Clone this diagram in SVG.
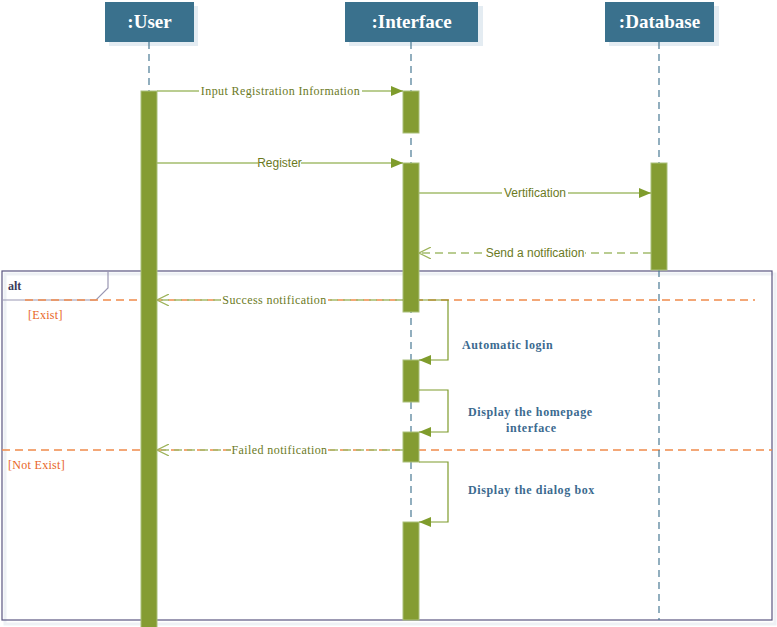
<svg xmlns="http://www.w3.org/2000/svg" width="777" height="627" viewBox="0 0 777 627">
  <style>
    .head { fill: #3a718d; }
    .headShadow { fill: #e4ecf2; }
    .headText { fill: #ffffff; font-family: "Liberation Serif", serif; font-weight: bold; font-size: 19px; text-anchor: middle; }
    .life { stroke: #4a7a94; stroke-width: 1.2; stroke-dasharray: 7 5; fill: none; }
    .act { fill: #849c32; stroke: #aac07a; stroke-width: 1; }
    .msg { stroke: #a3bc6d; stroke-width: 1.5; fill: none; }
    .dash { stroke-dasharray: 8 5; }
    .self { stroke: #7f9c2c; stroke-width: 1.2; fill: none; }
    .lblS { fill: #6b7a1e; font-family: "Liberation Serif", serif; font-size: 12px; text-anchor: middle; letter-spacing: 0.4px; }
    .lblA { fill: #6b7a1e; font-family: "Liberation Sans", sans-serif; font-size: 12px; text-anchor: middle; }
    .selfLbl { fill: #3b6a8f; font-family: "Liberation Serif", serif; font-weight: bold; font-size: 12px; letter-spacing: 0.6px; }
    .guard { fill: #e8641e; font-family: "Liberation Serif", serif; font-size: 12px; letter-spacing: 0.3px; }
    .sep { stroke: #f08a4b; stroke-width: 1.3; stroke-dasharray: 8 5; fill: none; }
    .frame { fill: none; stroke: #5a5580; stroke-width: 1.2; }
    .bg { fill: #ffffff; }
  </style>
  <defs>
    <marker id="filled" viewBox="0 0 12 10" refX="12" refY="5" markerWidth="12" markerHeight="10" markerUnits="userSpaceOnUse" orient="auto">
      <path d="M0,0 L12,5 L0,10 Z" fill="#7f9c2c"/>
    </marker>
    <marker id="open" viewBox="0 0 12 12" refX="12" refY="6" markerWidth="12" markerHeight="12" markerUnits="userSpaceOnUse" orient="auto">
      <path d="M0,0 L12,6 L0,12" fill="none" stroke="#9cb35a" stroke-width="1.2"/>
    </marker>
  </defs>

  <rect width="777" height="627" fill="#ffffff"/>

  <!-- combined fragment frame -->
  <g id="alt-frame">
    <rect x="5" y="274" width="770" height="350" fill="none" stroke="#eef1f5" stroke-width="3"/>
    <rect x="2" y="271" width="770" height="349" class="frame"/>
    <path d="M2,300 L96,300 L108,288 L108,271" fill="none" stroke="#9a97b3" stroke-width="1.2"/>
    <text x="8" y="290" font-family="Liberation Serif, serif" font-weight="bold" font-size="12" fill="#3b3b5c">alt</text>
    <line x1="25" y1="300" x2="755" y2="300" class="sep"/>
    <line x1="2" y1="450" x2="772" y2="450" class="sep"/>
    <text x="28" y="319" class="guard">[Exist]</text>
    <text x="8" y="469" class="guard">[Not Exist]</text>
  </g>

  <!-- lifelines -->
  <g id="user">
    <rect x="109" y="6" width="89" height="40" class="headShadow"/>
    <rect x="105" y="2" width="89" height="40" class="head"/>
    <text x="149.5" y="28" class="headText">:User</text>
    <line x1="149" y1="42" x2="149" y2="627" class="life"/>
    <rect x="141" y="91" width="16" height="540" class="act"/>
  </g>

  <g id="interface">
    <rect x="349" y="6" width="134" height="40" class="headShadow"/>
    <rect x="345" y="2" width="133" height="40" class="head"/>
    <text x="411.5" y="28" class="headText">:Interface</text>
    <line x1="411" y1="42" x2="411" y2="620" class="life"/>
    <rect x="403" y="91" width="16" height="42" class="act"/>
    <rect x="403" y="163" width="16" height="149" class="act"/>
    <rect x="403" y="360" width="16" height="42" class="act"/>
    <rect x="403" y="432" width="16" height="30" class="act"/>
    <rect x="403" y="522" width="16" height="98" class="act"/>
  </g>

  <g id="database">
    <rect x="609" y="6" width="110" height="40" class="headShadow"/>
    <rect x="605" y="2" width="109" height="40" class="head"/>
    <text x="659.5" y="28" class="headText">:Database</text>
    <line x1="659" y1="42" x2="659" y2="620" class="life"/>
    <rect x="651" y="163" width="16" height="107" class="act"/>
  </g>

  <!-- messages -->
  <g id="connectors">
    <line x1="157" y1="91" x2="403" y2="91" class="msg" marker-end="url(#filled)"/>
    <rect x="199" y="84" width="163" height="14" class="bg"/>
    <text x="280.5" y="95" class="lblS">Input Registration Information</text>

    <line x1="157" y1="163" x2="403" y2="163" class="msg" marker-end="url(#filled)"/>
    <rect x="258" y="156" width="43" height="14" class="bg"/>
    <text x="279.5" y="167" class="lblA">Register</text>

    <line x1="419" y1="193" x2="651" y2="193" class="msg" marker-end="url(#filled)"/>
    <rect x="502" y="186" width="66" height="14" class="bg"/>
    <text x="535" y="197" class="lblA">Vertification</text>

    <line x1="651" y1="253" x2="419" y2="253" class="msg dash" marker-end="url(#open)"/>
    <rect x="485" y="246" width="100" height="14" class="bg"/>
    <text x="535" y="257" class="lblA">Send a notification</text>

    <line x1="403" y1="300" x2="157" y2="300" class="msg dash" stroke="#8fa74a" marker-end="url(#open)"/>
    <rect x="221" y="293" width="107" height="14" class="bg"/>
    <text x="274.5" y="304" class="lblS">Success notification</text>

    <line x1="403" y1="450" x2="157" y2="450" class="msg dash" stroke="#8fa74a" marker-end="url(#open)"/>
    <rect x="231" y="443" width="97" height="14" class="bg"/>
    <text x="279.5" y="454" class="lblS">Failed notification</text>

    <polyline points="419,300 448,300 448,360 419,360" class="self" marker-end="url(#filled)"/>
    <text x="462" y="349" class="selfLbl">Automatic login</text>

    <polyline points="419,390 448,390 448,432 419,432" class="self" marker-end="url(#filled)"/>
    <text x="468" y="416" class="selfLbl">Display the homepage</text>
    <text x="506" y="432" class="selfLbl">interface</text>

    <polyline points="419,462 448,462 448,522 419,522" class="self" marker-end="url(#filled)"/>
    <text x="468" y="494" class="selfLbl">Display the dialog box</text>
  </g>
</svg>
